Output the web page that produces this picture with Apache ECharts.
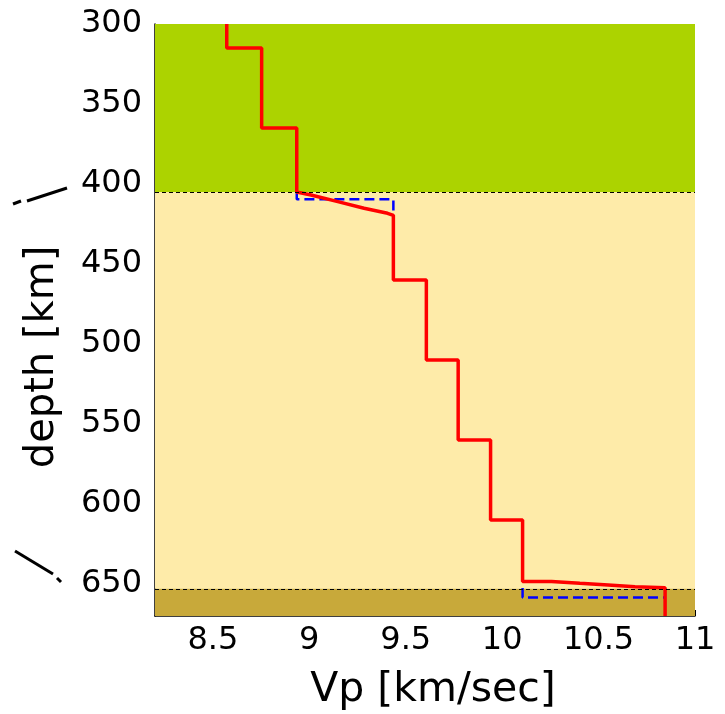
<!DOCTYPE html>
<html>
<head>
<meta charset="utf-8">
<script src="https://cdn.jsdelivr.net/npm/echarts@6/dist/echarts.min.js"></script>
<style>html,body{margin:0;padding:0;background:#fff;}#c{width:725px;height:714px;}</style>
</head>
<body>
<div id="c"></div>
<script>
// Red model profile (Vp km/s vs depth km), listed as path vertices in depth order
const redVp    = [8.572, 8.572, 8.753, 8.753, 8.935, 8.935, 9.009, 9.148, 9.284, 9.406, 9.436, 9.436, 9.607, 9.607, 9.772, 9.772, 9.940, 9.940, 10.106, 10.106, 10.256, 10.256, 10.403, 10.403, 10.550, 10.550, 10.689, 10.689, 10.845, 10.845];
const redDepth = [300,   315,   315,   365,   365,   405,   406.9, 411,   415.2, 418.3, 419.6, 460,   460,   510,   510,   560,   560,   610,   610,    648.5,  648.5,  649.6,  649.6,  650.6,  650.6,  651.7,  651.7,  652.3,  652.3,  670];
// Blue dashed reference steps
const blue1Vp    = [8.935, 8.935, 9.436, 9.436];
const blue1Depth = [405,   409.6, 409.6, 421];
const blue2Vp    = [10.106, 10.106, 10.845];
const blue2Depth = [652.5,  658.5,  658.5];
// Discontinuities and layer bands
const discontinuities = [405, 653];
const bands = [[300, 405], [405, 653], [653, 670]];
const bandColors = ['#acd300', '#feeba9', '#c8a93a'];
// Tick labels
const xTicks = [8.5, 9, 9.5, 10, 10.5, 11];
const yTicks = [300, 350, 400, 450, 500, 550, 600, 650];

const pts = (xs, ys) => xs.map((x, i) => [x, ys[i]]);
const font = 'DejaVu Sans';

const chart = echarts.init(document.getElementById('c'), null, {renderer: 'canvas'});
chart.setOption({
  animation: false,
  backgroundColor: '#fff',
  grid: {left: 155, right: 30, top: 24, bottom: 98, containLabel: false},
  xAxis: {
    type: 'value', min: 8.2, max: 11, position: 'bottom',
    axisLine: {show: true, onZero: false, lineStyle: {color: '#000', width: 1.5}},
    axisTick: {show: true, inside: true, length: 6, customValues: xTicks, lineStyle: {color: '#000', width: 1}},
    axisLabel: {show: true, customValues: xTicks, fontSize: 32, color: '#000', fontFamily: font, margin: 9},
    splitLine: {show: false}
  },
  yAxis: {
    type: 'value', inverse: true, min: 300, max: 670,
    axisLine: {show: true, onZero: false, lineStyle: {color: '#000', width: 1.5}},
    axisTick: {show: true, inside: true, length: 6, customValues: yTicks, lineStyle: {color: '#000', width: 1}},
    axisLabel: {show: true, customValues: yTicks, fontSize: 32, color: '#000', fontFamily: font, margin: 13},
    splitLine: {show: false}
  },
  graphic: [
    {type: 'text', x: 433, y: 690, style: {text: 'Vp [km/sec]', x: 0, y: 0, textAlign: 'center', textVerticalAlign: 'middle', font: '41px "DejaVu Sans"', fill: '#000'}},
    {type: 'text', x: 43, y: 357, rotation: Math.PI / 2, style: {text: 'depth [km]', x: 0, y: 0, textAlign: 'center', textVerticalAlign: 'middle', font: '40px "DejaVu Sans"', fill: '#000'}},
    {type: 'line', shape: {x1: 13, y1: 204, x2: 21, y2: 201}, style: {stroke: '#000', lineWidth: 3}},
    {type: 'line', shape: {x1: 27, y1: 201, x2: 67, y2: 188}, style: {stroke: '#000', lineWidth: 3}},
    {type: 'line', shape: {x1: 15, y1: 551, x2: 53, y2: 574}, style: {stroke: '#000', lineWidth: 3}},
    {type: 'line', shape: {x1: 57, y1: 578, x2: 61, y2: 582}, style: {stroke: '#000', lineWidth: 3}}
  ],
  series: [
    {
      type: 'line', z: 1, data: [], silent: true,
      markArea: {
        silent: true,
        data: bands.map((b, i) => [{yAxis: b[0], itemStyle: {color: bandColors[i], opacity: 1}}, {yAxis: b[1]}])
      },
      markLine: {
        silent: true, symbol: 'none', label: {show: false},
        lineStyle: {color: '#000', type: [4, 3], width: 1.2},
        data: discontinuities.map(d => ({yAxis: d}))
      }
    },
    {type: 'line', z: 3, data: pts(blue1Vp, blue1Depth), showSymbol: false, lineStyle: {color: '#0000ff', width: 2.5, type: [10, 5]}},
    {type: 'line', z: 3, data: pts(blue2Vp, blue2Depth), showSymbol: false, lineStyle: {color: '#0000ff', width: 2.5, type: [10, 5]}},
    {type: 'line', z: 4, data: pts(redVp, redDepth), showSymbol: false, lineStyle: {color: '#ff0000', width: 3.5}}
  ]
});
</script>
</body>
</html>
